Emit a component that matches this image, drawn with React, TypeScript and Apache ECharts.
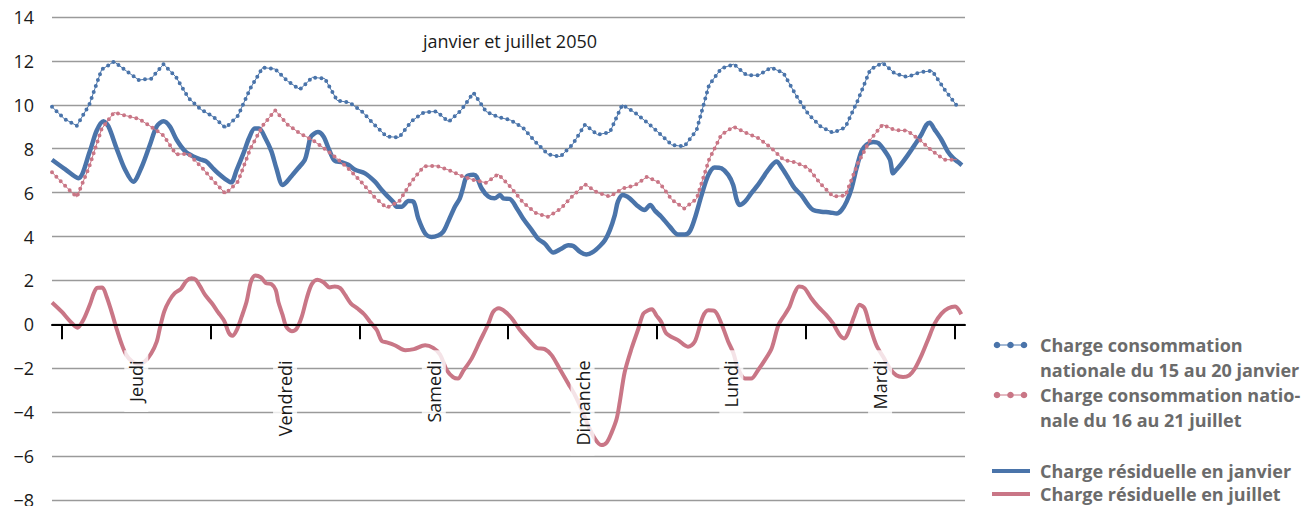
import React, { useEffect, useRef } from "react";
import * as echarts from "echarts";

const FONT = '"Open Sans", "Noto Sans", sans-serif';
const BLUE = "#4a74aa";
const PINK = "#c97686";

const titleText = "janvier et juillet 2050";
const dayNames = ["Jeudi", "Vendredi", "Samedi", "Dimanche", "Lundi", "Mardi"];
const dayTickHours = [1.6, 25.6, 49.6, 73.6, 97.6, 121.6, 145.6];
const dayLabelHours = [13.6, 37.6, 61.6, 85.6, 109.6, 133.6];

const legendNames = [
  ["Charge consommation", "nationale du 15 au 20 janvier"],
  ["Charge consommation natio-", "nale du 16 au 21 juillet"],
  ["Charge résiduelle en janvier"],
  ["Charge résiduelle en juillet"],
];

// time index (every 2 hours) for the national consumption curves
const consoHours = [
  0, 2, 4, 6, 8, 10, 12, 14, 16, 18, 20, 22, 24, 26, 28, 30, 32, 34, 36, 38, 40, 42, 44, 46, 48,
  50, 52, 54, 56, 58, 60, 62, 64, 66, 68, 70, 72, 74, 76, 78, 80, 82, 84, 86, 88, 90, 92, 94, 96,
  98, 100, 102, 104, 106, 108, 110, 112, 114, 116, 118, 120, 122, 124, 126, 128, 130, 132, 134,
  136, 138, 140, 142, 144, 146,
];

const janConso = [
  9.91, 9.36, 9.05, 10.0, 11.6, 11.97, 11.54, 11.13, 11.19, 11.85, 11.27, 10.32, 9.79, 9.46,
  8.95, 9.5, 10.75, 11.7, 11.63, 11.08, 10.7, 11.25, 11.2, 10.2, 10.1, 9.7, 9.1, 8.55, 8.52,
  9.25, 9.66, 9.7, 9.23, 9.75, 10.55, 9.7, 9.44, 9.3, 8.95, 8.31, 7.75, 7.64, 8.2, 9.1, 8.64,
  8.75, 10.0, 9.65, 9.2, 8.7, 8.17, 8.1, 8.85, 10.9, 11.66, 11.85, 11.36, 11.34, 11.7, 11.45,
  10.45, 9.58, 9.02, 8.72, 8.98, 10.2, 11.6, 11.92, 11.42, 11.27, 11.48, 11.55, 10.7, 9.95,
];

const julConso = [
  6.93, 6.34, 5.8, 7.17, 8.9, 9.65, 9.5, 9.36, 9.0, 8.6, 7.75, 7.77, 7.2, 6.55, 5.95, 6.5, 8.0,
  9.05, 9.75, 9.1, 8.7, 8.4, 8.0, 7.55, 7.05, 6.45, 5.8, 5.31, 5.6, 6.5, 7.2, 7.22, 7.03, 6.77,
  6.58, 6.45, 6.84, 6.25, 5.55, 5.08, 4.9, 5.25, 5.85, 6.38, 6.0, 5.82, 6.18, 6.33, 6.72, 6.45,
  5.68, 5.28, 5.72, 7.5, 8.64, 9.0, 8.72, 8.48, 8.05, 7.5, 7.37, 7.12, 6.4, 5.83, 5.86, 7.33,
  8.4, 9.1, 8.85, 8.82, 8.4, 7.9, 7.5, 7.5,
];

const janResHours = [
  0, 2.1, 4.25, 6.1, 7.2, 8.3, 9.1, 10.4, 11.8, 13.1, 14.5, 15.8, 16.9, 18.0, 19.0, 20.1, 21.5,
  22.8, 24.1, 24.9, 26.0, 26.8, 27.9, 28.9, 29.8, 30.9, 31.8, 32.7, 33.4, 34.4, 35.4, 36.2, 37.2,
  37.9, 38.8, 39.7, 40.8, 41.3, 41.8, 42.9, 43.8, 44.6, 45.6, 46.7, 47.8, 48.9, 50.5, 52.1, 53.2,
  54.2, 55.1, 55.6, 56.4, 57.5, 58.3, 59.1, 60.2, 61.2, 62.3, 63.1, 63.9, 65.0, 65.8, 66.3, 66.9,
  68.0, 68.5, 69.3, 70.4, 71.4, 72.3, 72.8, 73.9, 75.0, 76.0, 77.4, 78.4, 79.5, 80.9, 82.0, 83.3,
  84.1, 85.2, 86.2, 87.3, 88.4, 89.2, 90.0, 90.8, 91.3, 92.1, 93.2, 94.3, 95.6, 96.5, 97.3, 98.3,
  99.7, 101.0, 102.1, 102.9, 103.7, 104.8, 105.9, 106.9, 108.0, 109.1, 109.9, 110.4, 110.9, 111.8,
  112.8, 113.9, 115.0, 116.1, 116.9, 117.7, 118.8, 119.8, 120.9, 122.0, 122.8, 124.1, 125.5,
  126.6, 127.4, 128.2, 129.0, 129.8, 130.6, 131.4, 132.5, 133.3, 134.4, 135.2, 135.7, 136.2,
  137.0, 138.1, 139.2, 140.3, 141.1, 141.6, 142.4, 143.5, 144.5, 145.4, 146.2, 146.8,
];
const janResValues = [
  7.5, 7.07, 6.66, 7.88, 8.82, 9.25, 9.02, 8.03, 7.04, 6.5, 7.19, 8.18, 9.02, 9.25, 9.02, 8.41,
  7.88, 7.65, 7.5, 7.42, 7.1, 6.88, 6.63, 6.47, 7.04, 7.8, 8.49, 8.92, 8.92, 8.49, 7.88, 7.11,
  6.35, 6.5, 6.81, 7.11, 7.5, 8.03, 8.56, 8.76, 8.56, 8.03, 7.45, 7.39, 7.27, 7.04, 6.88, 6.5,
  6.12, 5.82, 5.56, 5.36, 5.36, 5.62, 5.59, 4.82, 4.14, 3.98, 4.05, 4.21, 4.67, 5.36, 5.74, 6.2,
  6.73, 6.81, 6.73, 6.2, 5.82, 5.74, 5.89, 5.74, 5.71, 5.28, 4.82, 4.29, 3.9, 3.68, 3.27, 3.42,
  3.6, 3.57, 3.3, 3.18, 3.3, 3.57, 3.83, 4.29, 4.98, 5.59, 5.89, 5.74, 5.44, 5.21, 5.44, 5.17,
  4.9, 4.44, 4.09, 4.09, 4.24, 4.82, 5.89, 6.81, 7.15, 7.11, 6.81, 6.35, 5.74, 5.44, 5.59, 5.97,
  6.35, 6.81, 7.24, 7.42, 7.15, 6.66, 6.2, 5.89, 5.44, 5.21, 5.13, 5.1, 5.05, 5.21, 5.59, 6.2,
  7.11, 7.88, 8.18, 8.31, 8.26, 7.88, 7.5, 6.88, 7.04, 7.3, 7.72, 8.18, 8.67, 9.1, 9.18, 8.87,
  8.41, 7.88, 7.57, 7.39, 7.25,
];

const julResHours = [
  0, 1.56, 2.9, 4.1, 5.05, 6.1, 7.2, 8.1, 8.8, 9.6, 10.4, 11.2, 12.0, 13.0, 13.9, 14.9, 16.0,
  16.9, 17.4, 18.1, 18.9, 19.8, 20.8, 21.7, 22.5, 23.2, 23.9, 24.7, 25.8, 26.8, 27.8, 28.5, 29.1,
  29.8, 30.6, 31.4, 32.1, 32.8, 33.7, 34.5, 35.4, 36.1, 36.5, 37.2, 37.8, 38.7, 39.5, 40.3, 41.1,
  41.9, 42.8, 43.8, 44.8, 45.6, 46.5, 47.3, 48.2, 49.4, 50.4, 51.3, 52.4, 53.2, 54.0, 55.3, 57.0,
  58.4, 60.2, 61.5, 62.6, 63.7, 64.7, 65.5, 66.3, 67.7, 69.0, 70.4, 71.2, 72.1, 73.1, 74.2, 75.5,
  76.8, 78.2, 79.5, 80.6, 81.9, 83.3, 84.4, 85.4, 86.5, 87.6, 88.6, 89.5, 90.3, 91.1, 91.6, 92.4,
  93.5, 94.6, 95.4, 96.2, 96.8, 97.5, 98.3, 99.1, 101.0, 102.6, 103.7, 105.0, 105.9, 106.9, 108.0,
  109.1, 109.9, 110.7, 111.8, 112.8, 113.9, 115.0, 116.1, 117.2, 118.2, 119.0, 119.8, 120.5,
  121.4, 122.5, 123.6, 124.9, 126.0, 127.1, 127.8, 128.4, 129.5, 130.3, 131.1, 131.9, 133.0,
  134.1, 135.2, 136.2, 137.3, 138.3, 139.2, 140.3, 141.3, 142.4, 143.5, 144.6, 145.7, 146.7,
];
const julResValues = [
  1.0, 0.58, 0.15, -0.15, 0.2, 0.89, 1.65, 1.68, 1.27, 0.58, -0.18, -0.87, -1.4, -1.71, -1.79,
  -1.71, -1.33, -0.79, -0.18, 0.58, 1.07, 1.42, 1.62, 1.98, 2.1, 2.03, 1.73, 1.34, 0.96, 0.55,
  0.15, -0.37, -0.52, -0.26, 0.35, 1.04, 1.95, 2.23, 2.14, 1.88, 1.83, 1.57, 1.04, 0.43, -0.11,
  -0.31, -0.18, 0.35, 1.19, 1.83, 2.03, 1.92, 1.68, 1.73, 1.65, 1.34, 0.96, 0.7, 0.45, 0.12,
  -0.26, -0.76, -0.82, -0.95, -1.18, -1.13, -0.95, -1.07, -1.37, -2.09, -2.4, -2.47, -2.14, -1.56,
  -0.79, 0.03, 0.58, 0.73, 0.58, 0.27, -0.26, -0.67, -1.07, -1.13, -1.4, -2.02, -2.7, -3.24,
  -3.85, -4.61, -5.22, -5.5, -5.38, -4.92, -4.3, -3.54, -2.17, -1.1, -0.2, 0.49, 0.64, 0.69, 0.41,
  0.11, -0.41, -0.72, -1.02, -0.79, 0.35, 0.64, 0.61, 0.03, -0.79, -1.28, -2.02, -2.47, -2.47,
  -2.09, -1.63, -1.1, -0.03, 0.43, 0.81, 1.42, 1.73, 1.65, 1.19, 0.81, 0.43, 0.04, -0.49, -0.64,
  -0.41, 0.43, 0.89, 0.73, -0.03, -0.95, -1.48, -2.02, -2.32, -2.4, -2.32, -2.02, -1.4, -0.72,
  0.03, 0.49, 0.73, 0.81, 0.46,
];

const pairs = (xs: number[], ys: number[]) => xs.map((x, i) => [x, ys[i]]);

function legendGraphics() {
  const els: any[] = [];
  const textStyle = (text: string, x: number, y: number) => ({
    type: "text",
    x,
    y,
    style: {
      text,
      fill: "#6b6b6b",
      fontFamily: FONT,
      fontWeight: "bold",
      fontSize: 18,
      verticalAlign: "middle",
      textAlign: "left",
    },
  });
  const dotted = (y: number, color: string) => {
    els.push({
      type: "line",
      shape: { x1: 997, y1: y, x2: 1024, y2: y },
      style: { stroke: color, lineWidth: 1 },
    });
    [997, 1010.5, 1024].forEach((cx) =>
      els.push({ type: "circle", shape: { cx, cy: y, r: 3.3 }, style: { fill: color } })
    );
  };
  dotted(345, BLUE);
  els.push(textStyle(legendNames[0][0], 1040, 345));
  els.push(textStyle(legendNames[0][1], 1040, 370));
  dotted(395, PINK);
  els.push(textStyle(legendNames[1][0], 1040, 395));
  els.push(textStyle(legendNames[1][1], 1040, 420));
  els.push({
    type: "line",
    shape: { x1: 992, y1: 471, x2: 1030, y2: 471 },
    style: { stroke: BLUE, lineWidth: 4 },
  });
  els.push(textStyle(legendNames[2][0], 1040, 471));
  els.push({
    type: "line",
    shape: { x1: 992, y1: 494, x2: 1030, y2: 494 },
    style: { stroke: PINK, lineWidth: 4 },
  });
  els.push(textStyle(legendNames[3][0], 1040, 494));
  els.push({
    type: "text",
    x: 510,
    y: 41,
    style: {
      text: titleText,
      fill: "#1a1a1a",
      fontFamily: FONT,
      fontSize: 18,
      textAlign: "center",
      verticalAlign: "middle",
    },
  });
  return els;
}

export default function App() {
  const ref = useRef<HTMLDivElement>(null);
  useEffect(() => {
    if (!ref.current) return;
    const chart = echarts.init(ref.current, undefined, { renderer: "svg" });
    const dotLine = (name: string, data: number[], color: string) => [
      {
        name,
        type: "line",
        data: pairs(consoHours, data),
        symbol: "none",
        smooth: false,
        silent: true,
        z: 3,
        lineStyle: { color, width: 1 },
      },
      {
        name: name + "-dots",
        type: "line",
        data: pairs(consoHours, data),
        symbol: "none",
        smooth: false,
        silent: true,
        z: 3,
        lineStyle: { color, width: 4, type: [0, 6.3], cap: "round" },
      },
    ];
    chart.setOption({
      animation: false,
      textStyle: { fontFamily: FONT },
      grid: {
        left: 52,
        right: 349,
        top: 17,
        bottom: 6,
        containLabel: false,
        outerBoundsMode: "none",
      },
      xAxis: {
        type: "value",
        min: 0,
        max: 147.3,
        z: 5,
        axisLine: { onZero: true, lineStyle: { color: "#000", width: 2 } },
        axisTick: {
          show: true,
          customValues: dayTickHours,
          length: 15,
          inside: false,
          lineStyle: { color: "#000", width: 2 },
        },
        axisLabel: { show: false },
        splitLine: { show: false },
      },
      yAxis: {
        type: "value",
        min: -8,
        max: 14,
        interval: 2,
        axisLine: { show: false },
        axisTick: { show: false },
        axisLabel: {
          fontSize: 18,
          fontFamily: FONT,
          color: "#1a1a1a",
          margin: 18,
          formatter: (v: number) => String(v).replace("-", "\u2212"),
        },
        splitLine: { lineStyle: { color: "#9a9a9a", width: 1.3 } },
      },
      series: [
        {
          name: legendNames[2][0],
          type: "line",
          data: pairs(janResHours, janResValues),
          symbol: "none",
          smooth: 0.3,
          silent: true,
          z: 2,
          lineStyle: { color: BLUE, width: 4.5 },
        },
        {
          name: legendNames[3][0],
          type: "line",
          data: pairs(julResHours, julResValues),
          symbol: "none",
          smooth: 0.3,
          silent: true,
          z: 2,
          lineStyle: { color: PINK, width: 4 },
        },
        ...dotLine("julConso", julConso, PINK),
        ...dotLine("janConso", janConso, BLUE),
      ],
      graphic: legendGraphics(),
    });

    // Day labels: rotated texts placed through the chart's own scales
    const dayLabels = dayLabelHours.map((h, i) => {
      const p = chart.convertToPixel({ gridIndex: 0 }, [h, 0]) as number[];
      return {
        type: "text",
        x: p[0],
        y: p[1] + 26,
        rotation: Math.PI / 2,
        z: 10,
        style: {
          text: dayNames[i],
          fill: "#1a1a1a",
          fontFamily: FONT,
          fontSize: 18,
          textAlign: "right",
          verticalAlign: "middle",
          backgroundColor: "rgba(255,255,255,0.8)",
          padding: [3, 10, 3, 10],
        },
      };
    });
    chart.setOption({ graphic: [...legendGraphics(), ...dayLabels] });
    return () => chart.dispose();
  }, []);
  return (
    <div
      ref={ref}
      style={{ position: "absolute", left: 0, top: 0, width: 1314, height: 506 }}
    />
  );
}
